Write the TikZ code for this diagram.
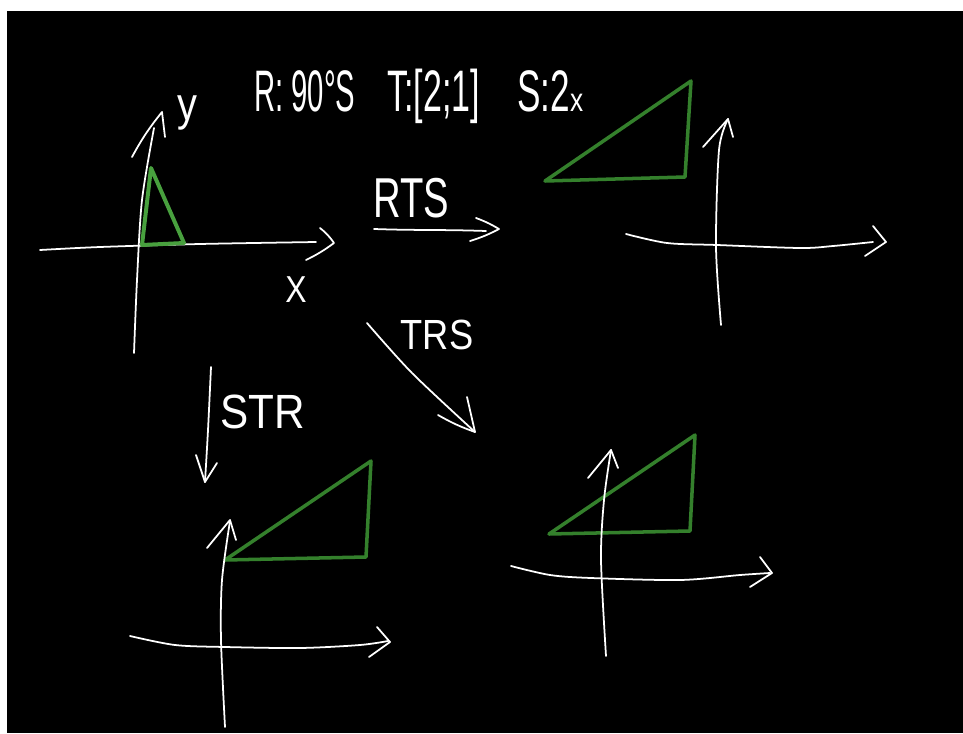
\documentclass[tikz,border=0pt]{standalone}
\usepackage{fontspec}
\setmainfont{Liberation Sans}
\definecolor{trigreen}{RGB}{52,128,44}
\definecolor{trigreenb}{RGB}{72,160,62}
\newcommand{\hwtext}[3]{{\fontsize{#1}{#1}\selectfont\scalebox{#2}[1]{#3}}}
\begin{document}
\begin{tikzpicture}[x=0.03cm,y=-0.03cm,
  chalk/.style={draw=white,line width=1.5pt,line cap=round,line join=round},
  tri/.style={draw=trigreen,line width=3pt,line cap=round,line join=round},
  tribright/.style={draw=trigreenb,line width=3.4pt,line cap=round,line join=round},
  hw/.style={text=white,inner sep=0pt}]
\fill[white] (0,0) rectangle (963,733);
\fill[black] (7,11) rectangle (963,733);
\useasboundingbox (0,0) rectangle (963,733);

% title
\node[hw,anchor=base west] (tr) at (254,112) {\hwtext{50}{0.5}{R: 90°S}};
\node[hw,anchor=base west] (tt) at (387,112) {\hwtext{50}{0.58}{T:[2;1]}};
\node[hw,anchor=base west] (ts) at (517,112) {\hwtext{50}{0.6}{S:2}\hwtext{28}{0.8}{x}};

% graph 1 (top left)
\draw[chalk] plot[smooth] coordinates {(40,250) (100,247) (200,244) (316,242)};
\draw[chalk] (320,228) to[bend left=8] (334,243) to[bend left=5] (306,260);
\draw[chalk] plot[smooth] coordinates {(134,353) (137,280) (142,200) (154,128)};
\draw[chalk] (132,157) to[bend left=5] (162,112) -- (165,137);
\draw[tribright] (142,245) -- (151,168) -- (184,243) -- cycle;
\node[hw] (ly) at (187,113) {\hwtext{40}{0.85}{y}};
\node[hw] (lx) at (296,290) {\hwtext{32}{0.85}{X}};

% RTS arrow
\coordinate (rtsA) at (374,229);
\coordinate (rtsB) at (499,229);
\draw[chalk] (rtsA) to[out=-2,in=178] (486,231);
\draw[chalk] (476,218) to[bend left=5] (rtsB) to[bend left=5] (470,241);
\node[hw] (lrts) at (411,198) {\hwtext{48}{0.68}{RTS}};

% graph 2 (top right)
\draw[tri] (545,181) -- (691,81) -- (685,177) -- cycle;
\draw[chalk] plot[smooth] coordinates {(626,234) (667,243) (717,245) (800,248) (833,246) (873,242)};
\draw[chalk] (873,226) -- (886,242) -- (865,256);
\draw[chalk] plot[smooth] coordinates {(721,325) (716,247) (719,150) (728,119)};
\draw[chalk] (703,147) -- (728,119) -- (733,137);

% TRS arrow
\coordinate (trsA) at (367,323);
\coordinate (trsB) at (475,432);
\draw[chalk] plot[smooth] coordinates {(trsA) (412,373) (trsB)};
\draw[chalk] (467,397) -- (trsB) to[bend left=5] (438,415);
\node[hw] (ltrs) at (437,335) {\hwtext{36}{0.86}{TRS}};

% STR arrow
\coordinate (strA) at (211,367);
\coordinate (strB) at (205,482);
\draw[chalk] plot[smooth] coordinates {(strA) (208,430) (strB)};
\draw[chalk] (196,455) -- (strB) -- (217,463);
\node[hw] (lstr) at (263,412) {\hwtext{41}{0.88}{STR}};

% graph 3 (bottom left)
\draw[tri] (225,560) -- (371,461) -- (366,557) -- cycle;
\draw[chalk] plot[smooth] coordinates {(130,636) (175,645) (225,647) (300,648) (360,645) (388,641)};
\draw[chalk] (377,627) -- (390,642) -- (369,657);
\draw[chalk] plot[smooth] coordinates {(225,727) (221,640) (222,580) (230,521)};
\draw[chalk] (207,548) -- (230,520) -- (236,540);

% graph 4 (bottom right)
\draw[tri] (549,534) -- (695,435) -- (690,531) -- cycle;
\draw[chalk] plot[smooth] coordinates {(511,566) (550,575) (591,578) (680,580) (740,575) (770,573)};
\draw[chalk] (760,557) -- (772,573) -- (750,587);
\draw[chalk] plot[smooth] coordinates {(606,656) (601,560) (604,500) (611,450)};
\draw[chalk] (588,478) -- (611,450) -- (618,468);
\end{tikzpicture}
\end{document}
